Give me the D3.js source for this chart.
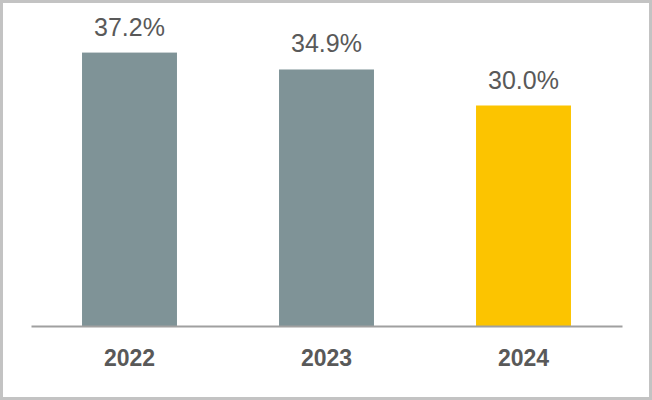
<!DOCTYPE html>
<html><head><meta charset="utf-8">
<script src="https://cdn.jsdelivr.net/npm/d3@7"></script>
<style>html,body{margin:0;padding:0;background:#fff;}svg{display:block;}</style>
</head><body>
<script>
const categories = ["2022", "2023", "2024"];
const values = [37.2, 34.9, 30.0];
const valueLabels = ["37.2%", "34.9%", "30.0%"];
const colors = ["#7f9397", "#7f9397", "#fcc400"];

const W = 652, H = 400;
const svg = d3.select("body").append("svg").attr("width", W).attr("height", H);

svg.append("rect").attr("x", 1.5).attr("y", 1.5).attr("width", W - 3).attr("height", H - 3)
  .attr("fill", "#fff").attr("stroke", "#c3c3c3").attr("stroke-width", 3);

const x = d3.scaleBand().domain(categories).range([31, 622]).paddingInner(0.518).paddingOuter(0.259);
const y = d3.scaleLinear().domain([0, 40]).range([326, 32]);

svg.selectAll(".bar").data(values).enter().append("rect")
  .attr("x", (d, i) => x(categories[i]))
  .attr("y", d => y(d))
  .attr("width", x.bandwidth())
  .attr("height", d => y(0) - y(d))
  .attr("fill", (d, i) => colors[i]);

svg.selectAll(".val").data(values).enter().append("text")
  .attr("x", (d, i) => x(categories[i]) + x.bandwidth() / 2)
  .attr("y", d => y(d) - 17)
  .attr("text-anchor", "middle")
  .attr("font-family", "Liberation Sans, Arial, sans-serif")
  .attr("font-size", 25)
  .attr("fill", "#595959")
  .text((d, i) => valueLabels[i]);

const axis = d3.axisBottom(x).tickSize(0).tickPadding(22);
const g = svg.append("g").attr("transform", `translate(0,${y(0)})`).call(axis);
g.select(".domain").attr("stroke", "#a0a0a0").attr("stroke-width", 2);
g.selectAll("text")
  .attr("font-family", "Liberation Sans, Arial, sans-serif")
  .attr("font-size", 23).attr("font-weight", "bold").attr("fill", "#595959")
  .attr("dy", null).attr("y", 40);
</script>
</body></html>
